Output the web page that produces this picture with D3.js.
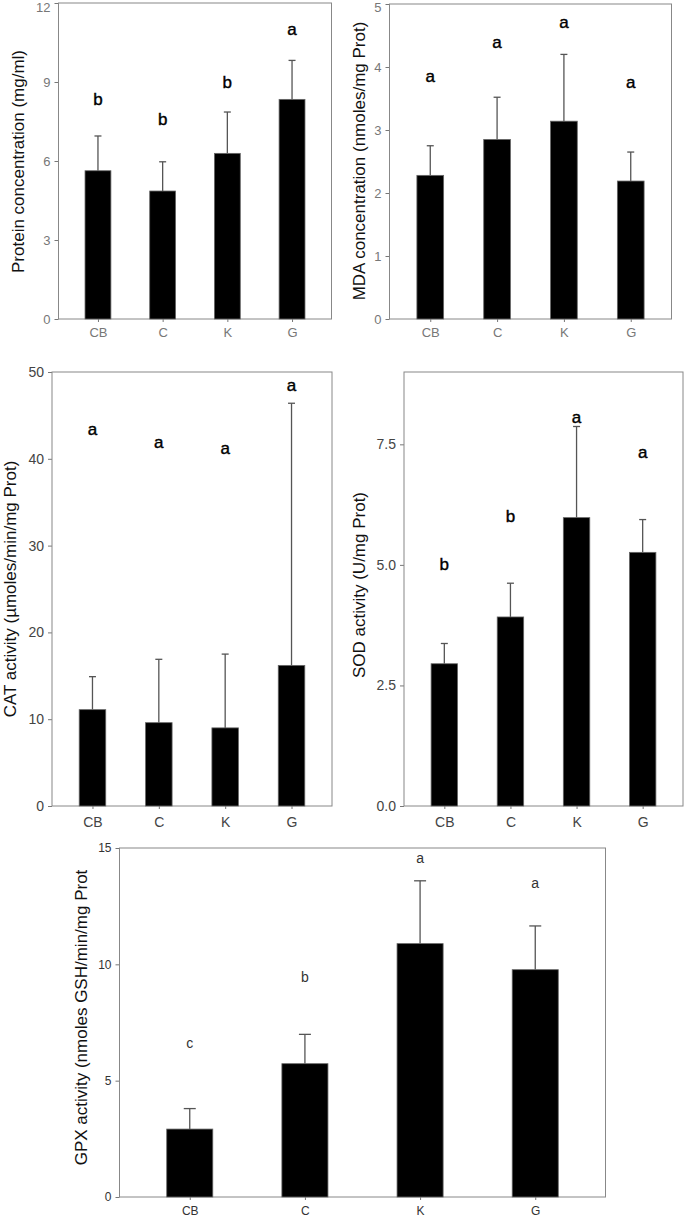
<!DOCTYPE html>
<html>
<head>
<meta charset="utf-8">
<script src="https://cdn.jsdelivr.net/npm/d3@7/dist/d3.min.js"></script>
<style>
  html, body { margin: 0; padding: 0; background: #fff; }
  svg { display: block; font-family: "Liberation Sans", Arial, sans-serif; }
</style>
</head>
<body>
<svg id="chart" width="685" height="1217"></svg>
<script>
// ---------- data ----------
const categories = ["CB", "C", "K", "G"];

const proteinMean = [5.63, 4.86, 6.29, 8.34];
const proteinSD   = [1.32, 1.11, 1.57, 1.48];
const proteinLetters = ["b", "b", "b", "a"];
const proteinLetterY = [8.36, 7.6, 9.01, 11.01];
const proteinTicks = [0, 3, 6, 9, 12];

const mdaMean = [2.28, 2.85, 3.14, 2.19];
const mdaSD   = [0.47, 0.67, 1.06, 0.46];
const mdaLetters = ["a", "a", "a", "a"];
const mdaLetterY = [3.86, 4.4, 4.72, 3.76];
const mdaTicks = [0, 1, 2, 3, 4, 5];

const catMean = [11.1, 9.6, 9.0, 16.2];
const catSD   = [3.8, 7.3, 8.5, 30.2];
const catLetters = ["a", "a", "a", "a"];
const catLetterY = [43.4, 41.9, 41.2, 48.5];
const catTicks = [0, 10, 20, 30, 40, 50];

const sodMean = [2.95, 3.92, 5.98, 5.26];
const sodSD   = [0.42, 0.70, 1.89, 0.68];
const sodLetters = ["b", "b", "a", "a"];
const sodLetterY = [5.02, 6.01, 8.07, 7.33];
const sodTicks = [0, 2.5, 5, 7.5];

const gpxMean = [2.92, 5.73, 10.89, 9.77];
const gpxSD   = [0.88, 1.26, 2.70, 1.88];
const gpxLetters = ["c", "b", "a", "a"];
const gpxLetterY = [6.6, 9.43, 14.56, 13.48];
const gpxTicks = [0, 5, 10, 15];

// ---------- drawing ----------
const svg = d3.select("#chart");

function panel(cfg) {
  const g = svg.append("g");
  const x = d3.scalePoint().domain(categories).range([cfg.left, cfg.right]).padding(0.61);
  const y = d3.scaleLinear().domain(cfg.domain).range([cfg.bottom, cfg.top]);
  const bw = x.step() * 0.4;

  // y axis
  const ya = g.append("g").attr("transform", `translate(${cfg.left},0)`)
    .call(d3.axisLeft(y).tickValues(cfg.ticks).tickSize(4).tickPadding(4)
      .tickFormat(cfg.fmt ? d3.format(cfg.fmt) : d3.format("d")));
  ya.select(".domain").remove();
  ya.selectAll("line").attr("stroke", "#777");
  ya.selectAll("text").attr("fill", cfg.tickColor).style("font-size", cfg.tickSize + "px")
    .attr("y", d => Math.max(0, cfg.tickSize * 0.5 + 0.5 - y(d)));

  // x axis
  const xa = g.append("g").attr("transform", `translate(0,${cfg.bottom})`)
    .call(d3.axisBottom(x).tickSize(3).tickPadding(cfg.xPad));
  xa.select(".domain").remove();
  xa.selectAll("line").attr("stroke", "#777");
  xa.selectAll("text").attr("fill", cfg.tickColor).style("font-size", cfg.xTickSize + "px");

  // frame
  g.append("rect")
    .attr("x", cfg.left).attr("y", cfg.top)
    .attr("width", cfg.right - cfg.left).attr("height", cfg.bottom - cfg.top)
    .attr("fill", "none").attr("stroke", "#888").attr("stroke-width", 1);

  const data = categories.map((c, i) => ({ c, m: cfg.mean[i], sd: cfg.sd[i], l: cfg.letters[i], ly: cfg.letterY[i] }));

  // error bars (upper only)
  g.selectAll(".err").data(data).enter().append("line")
    .attr("x1", d => x(d.c)).attr("x2", d => x(d.c))
    .attr("y1", d => y(d.m)).attr("y2", d => y(d.m + d.sd))
    .attr("stroke", "#555").attr("stroke-width", 1.3);
  g.selectAll(".cap").data(data).enter().append("line")
    .attr("x1", d => x(d.c) - cfg.cap / 2).attr("x2", d => x(d.c) + cfg.cap / 2)
    .attr("y1", d => y(d.m + d.sd)).attr("y2", d => y(d.m + d.sd))
    .attr("stroke", "#555").attr("stroke-width", 1.3);

  // bars
  g.selectAll(".bar").data(data).enter().append("rect")
    .attr("x", d => x(d.c) - bw / 2).attr("width", bw)
    .attr("y", d => y(d.m)).attr("height", d => y(0) - y(d.m))
    .attr("fill", "#000").attr("stroke", "#666").attr("stroke-width", 0.8);

  // significance letters
  g.selectAll(".let").data(data).enter().append("text")
    .attr("x", d => x(d.c)).attr("y", d => y(d.ly))
    .attr("dy", "0.35em").attr("text-anchor", "middle")
    .attr("fill", cfg.letterColor).style("font-size", cfg.letterSize + "px")
    .attr("stroke", cfg.letterColor).attr("stroke-width", cfg.letterStroke)
    .text(d => d.l);

  // y label
  g.append("text")
    .attr("transform", `translate(${cfg.labelX},${cfg.labelY}) rotate(-90)`)
    .attr("dy", "0.35em").attr("text-anchor", "middle")
    .attr("fill", "#111").style("font-size", "17px")
    .text(cfg.label);
}

panel({ left: 58.5, right: 331.5, top: 3, bottom: 319, domain: [0, 12], ticks: proteinTicks,
  mean: proteinMean, sd: proteinSD, letters: proteinLetters, letterY: proteinLetterY,
  tickColor: "#777", tickSize: 13, xTickSize: 13, xPad: 6, cap: 7, letterColor: "#000", letterSize: 17, letterStroke: 0.4,
  label: "Protein concentration (mg/ml)", labelX: 18, labelY: 161.5 });

panel({ left: 389.5, right: 671.5, top: 4, bottom: 319, domain: [0, 5], ticks: mdaTicks,
  mean: mdaMean, sd: mdaSD, letters: mdaLetters, letterY: mdaLetterY,
  tickColor: "#777", tickSize: 13, xTickSize: 13, xPad: 6, cap: 7, letterColor: "#000", letterSize: 17, letterStroke: 0.4,
  label: "MDA concentration (nmoles/mg Prot)", labelX: 359, labelY: 161 });

panel({ left: 52, right: 332, top: 372, bottom: 806, domain: [0, 50], ticks: catTicks,
  mean: catMean, sd: catSD, letters: catLetters, letterY: catLetterY,
  tickColor: "#444", tickSize: 14, xTickSize: 14, xPad: 8, cap: 7, letterColor: "#000", letterSize: 17, letterStroke: 0.4,
  label: "CAT activity (\u00b5moles/min/mg Prot)", labelX: 10, labelY: 589 });

panel({ left: 404, right: 683, top: 372, bottom: 806, domain: [0, 9], ticks: sodTicks, fmt: ".1f",
  mean: sodMean, sd: sodSD, letters: sodLetters, letterY: sodLetterY,
  tickColor: "#444", tickSize: 14, xTickSize: 14, xPad: 8, cap: 7, letterColor: "#000", letterSize: 17, letterStroke: 0.4,
  label: "SOD activity (U/mg Prot)", labelX: 359.5, labelY: 585 });

panel({ left: 119.5, right: 605.5, top: 848, bottom: 1197, domain: [0, 15], ticks: gpxTicks,
  mean: gpxMean, sd: gpxSD, letters: gpxLetters, letterY: gpxLetterY,
  tickColor: "#333", tickSize: 12, xTickSize: 12, xPad: 6, cap: 12, letterColor: "#333", letterSize: 14, letterStroke: 0,
  label: "GPX activity (nmoles GSH/min/mg Prot", labelX: 81.5, labelY: 1017.5 });
</script>
</body>
</html>
